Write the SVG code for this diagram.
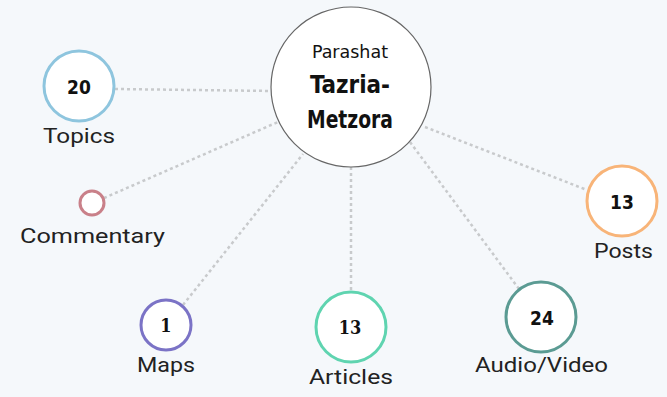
<svg xmlns="http://www.w3.org/2000/svg" width="667" height="397" viewBox="0 0 667 397">
<style>
.bg{fill:#f5f8fb}
.conn{stroke:#c8cacc;stroke-width:2.5;stroke-dasharray:3 3;fill:none}
.node{fill:#fff;stroke-width:3}
.lbl{font-family:Roboto,"Liberation Sans",sans-serif;font-size:21px;fill:#222;text-anchor:middle}
.num{font-family:"DejaVu Sans Condensed","DejaVu Sans",sans-serif;font-weight:bold;font-size:19px;fill:#111;text-anchor:middle}
.nums{font-family:"DejaVu Serif Condensed","DejaVu Serif",serif;font-weight:bold;font-size:18px;fill:#111;text-anchor:middle}
.ctr{font-family:"DejaVu Sans Condensed","DejaVu Sans",sans-serif;fill:#111;text-anchor:middle}
</style>
<rect class="bg" width="667" height="397"/>
<g id="connectors">
<line class="conn" x1="115" y1="89" x2="272" y2="91"/>
<line class="conn" x1="104" y1="198" x2="278" y2="122"/>
<line class="conn" x1="183" y1="305" x2="303" y2="154"/>
<line class="conn" x1="351" y1="167" x2="351" y2="291"/>
<line class="conn" x1="410" y1="142" x2="519" y2="289"/>
<line class="conn" x1="425" y1="127" x2="587" y2="190"/>
</g>
<g id="center">
<circle cx="351" cy="87" r="80" fill="#fff" stroke="#666" stroke-width="1.2"/>
<text class="ctr" x="350" y="58" font-size="17" textLength="76" lengthAdjust="spacingAndGlyphs">Parashat</text>
<text class="ctr" x="350" y="93" font-size="24" font-weight="bold" textLength="80" lengthAdjust="spacingAndGlyphs">Tazria-</text>
<text class="ctr" x="350" y="128" font-size="24" font-weight="bold" textLength="86" lengthAdjust="spacingAndGlyphs">Metzora</text>
</g>
<g id="topics">
<circle class="node" cx="79" cy="86" r="35" stroke="#8ec5de"/>
<text class="num" x="79" y="94">20</text>
<text class="lbl" x="79" y="143" textLength="72" lengthAdjust="spacingAndGlyphs">Topics</text>
</g>
<g id="commentary">
<circle class="node" cx="92" cy="203" r="12" stroke="#c98089" stroke-width="2.5"/>
<text class="lbl" x="92.5" y="243" textLength="145" lengthAdjust="spacingAndGlyphs">Commentary</text>
</g>
<g id="maps">
<circle class="node" cx="166" cy="325" r="25" stroke="#7b73c6"/>
<text class="nums" x="166" y="332">1</text>
<text class="lbl" x="166" y="372" textLength="58" lengthAdjust="spacingAndGlyphs">Maps</text>
</g>
<g id="articles">
<circle class="node" cx="351" cy="327" r="35" stroke="#5fd4b0"/>
<text class="nums" x="350" y="334">13</text>
<text class="lbl" x="351" y="384" textLength="84" lengthAdjust="spacingAndGlyphs">Articles</text>
</g>
<g id="audio">
<circle class="node" cx="541" cy="317" r="35" stroke="#5b9b93"/>
<text class="num" x="542" y="325">24</text>
<text class="lbl" x="541.5" y="372" textLength="133" lengthAdjust="spacingAndGlyphs">Audio/Video</text>
</g>
<g id="posts">
<circle class="node" cx="622" cy="201" r="35" stroke="#f8b478"/>
<text class="num" x="622" y="209">13</text>
<text class="lbl" x="623.5" y="258" textLength="59" lengthAdjust="spacingAndGlyphs">Posts</text>
</g>
</svg>
